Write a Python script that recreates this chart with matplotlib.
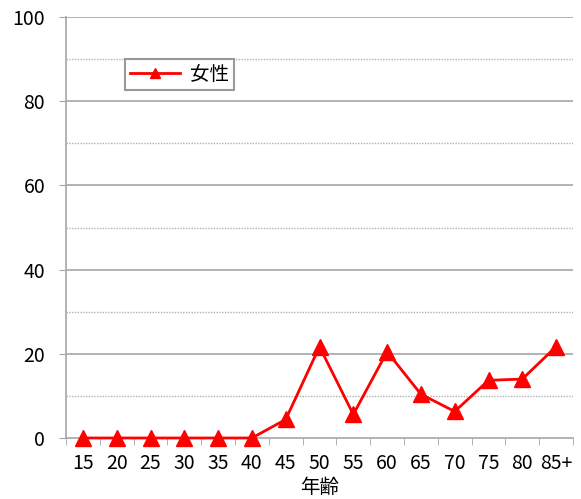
import matplotlib
matplotlib.use("Agg")
import matplotlib.pyplot as plt
import numpy as np

plt.rcParams['font.family'] = ['Noto Sans CJK JP', 'DejaVu Sans']

categories = ["15", "20", "25", "30", "35", "40", "45", "50", "55", "60", "65", "70", "75", "80", "85+"]
female = [0, 0, 0, 0, 0, 0, 4.4, 21.7, 5.6, 20.5, 10.4, 6.3, 13.7, 14.0, 21.7]
yticks = [0, 20, 40, 60, 80, 100]
minor_grid = [10, 30, 50, 70, 90]

fig = plt.figure(figsize=(5.81, 4.99), dpi=100)
ax = fig.add_axes([66/581, 1-438/499, (573-66)/581, (438-17)/499])

x = np.arange(len(categories))
ax.plot(x, female, color='#ff0000', lw=2.0, marker='^', markersize=12, label='女性', zorder=5, clip_on=False)

ax.set_xlim(-0.5, len(categories)-0.5)
ax.set_ylim(0, 100)

for v in yticks[1:]:
    ax.axhline(v, color='#a6a6a6', lw=1.2, zorder=1)
for v in minor_grid:
    ax.axhline(v, color='#b0b0b0', lw=1.0, ls=(0, (1, 1)), zorder=1)

ax.set_yticks(yticks)
ax.set_yticklabels([str(v) for v in yticks], fontsize=14)
ax.set_xticks(x)
ax.set_xticklabels(categories, fontsize=14)
ax.tick_params(axis='x', length=0, pad=11)
ax.set_xticks(np.arange(-0.5, len(categories), 1), minor=True)
ax.tick_params(axis='x', which='minor', length=5, color='#a6a6a6', direction='out')
ax.tick_params(axis='y', length=5, color='#a6a6a6', direction='out', pad=10)

for s in ['top', 'right']:
    ax.spines[s].set_visible(False)
for s in ['left', 'bottom']:
    ax.spines[s].set_color('#a6a6a6')
    ax.spines[s].set_linewidth(1.2)

ax.set_xlabel('年齢', fontsize=14, labelpad=2)

leg = ax.legend(loc='upper left', bbox_to_anchor=((125-66)/507, (438-59)/421), fontsize=14,
                frameon=True, fancybox=False, handlelength=2.6, borderpad=0.25,
                handletextpad=0.5, borderaxespad=0)
leg.get_frame().set_edgecolor('#808080')
leg.get_frame().set_linewidth(1.5)
leg.legend_handles[0].set_markersize(7)

fig.savefig('out.png', dpi=100)
